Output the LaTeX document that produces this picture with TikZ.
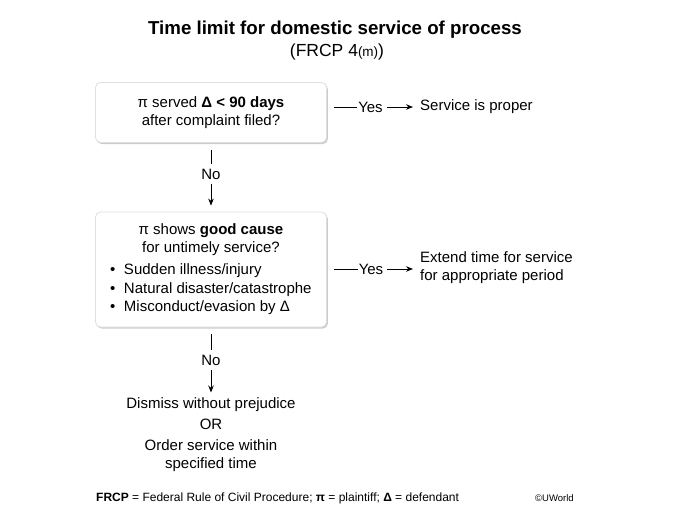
\documentclass[tikz,border=0pt]{standalone}
\usepackage{fontspec}
\setmainfont{Liberation Sans}
\usetikzlibrary{arrows.meta,shadows}
\begin{document}
\begin{tikzpicture}[x=1pt,y=-1pt,
  box/.style={draw=gray!25, line width=0.8pt, fill=white, rounded corners=5pt,
    minimum width=231pt,
    drop shadow={shadow xshift=1.3pt, shadow yshift=-1.6pt, opacity=0.5, fill=gray!80}},
  txt/.style={font=\fontsize{15}{18}\selectfont, inner sep=0pt},
  lbl/.style={font=\fontsize{15}{18}\selectfont, inner xsep=1pt, inner ysep=5pt},
  conn/.style={line width=0.8pt},
  arr/.style={line width=0.8pt, -{Stealth[length=7pt,width=5.5pt]}},
]
\useasboundingbox (0,0) rectangle (688,525);

% title
\node[font=\bfseries\fontsize{18.7}{22}\selectfont, inner sep=0pt] (title) at (335,30)
  {Time limit for domestic service of process};
\node[font=\fontsize{17.5}{20}\selectfont, inner sep=0pt] (sub) at (337,52)
  {(FRCP 4{\fontsize{13.5}{15}\selectfont(m)})};

% box 1
\node[box, txt, minimum height=60pt, align=center] (b1) at (211,112.5)
  {π served \textbf{Δ < 90 days}\\after complaint filed?};

\node[lbl] (yes1) at (370.5,107) {Yes};
\node[txt, anchor=west] (r1) at (420,106.5) {Service is proper};
\draw[conn, shorten <=7pt] (b1.east |- yes1.west) -- (yes1.west);
\draw[arr, shorten <=3pt, shorten >=7pt] (yes1.east) -- (yes1.east -| r1.west);

% no 1
\node[lbl] (no1) at (211,174) {No};
\draw[conn, shorten <=7pt] (b1.south) -- (no1.north);

% box 2
\node[box, txt, minimum height=115pt] (b2) at (211,269.5)
  {\begin{minipage}{204pt}\fontsize{15}{18}\selectfont
   \centering π shows \textbf{good cause}\\for untimely service?\par
   \vspace{4pt}\raggedright
   \makebox[15pt][l]{\hspace{1pt}•}Sudden illness/injury\\[0.5pt]
   \makebox[15pt][l]{\hspace{1pt}•}Natural disaster/catastrophe\\[0.5pt]
   \makebox[15pt][l]{\hspace{1pt}•}Misconduct/evasion by Δ\par
   \end{minipage}};
\draw[arr, shorten >=6pt] (no1.south) -- (b2.north);

\node[lbl] (yes2) at (371,269) {Yes};
\node[txt, anchor=west, align=left] (r2) at (420,268)
  {Extend time for service\\for appropriate period};
\draw[conn, shorten <=7pt] (b2.east |- yes2.west) -- (yes2.west);
\draw[arr, shorten <=3pt, shorten >=7pt] (yes2.east) -- (yes2.east -| r2.west);

% no 2
\node[lbl] (no2) at (211,360) {No};
\draw[conn, shorten <=7pt] (b2.south) -- (no2.north);

\node[txt, align=center, anchor=north] (fin) at (211,397.5)
  {Dismiss without prejudice\\[3pt]OR\\[3pt]Order service within\\specified time};
\draw[arr, shorten >=5pt] (no2.south) -- (fin.north);

% footer
\node[font=\fontsize{12}{14}\selectfont, inner sep=0pt, anchor=west] (foot) at (96,498)
  {\textbf{FRCP} = Federal Rule of Civil Procedure; \textbf{π} = plaintiff; \textbf{Δ} = defendant};
\node[font=\fontsize{9.5}{11}\selectfont, inner sep=0pt, anchor=west] (copy) at (535,498)
  {©UWorld};
\end{tikzpicture}
\end{document}
